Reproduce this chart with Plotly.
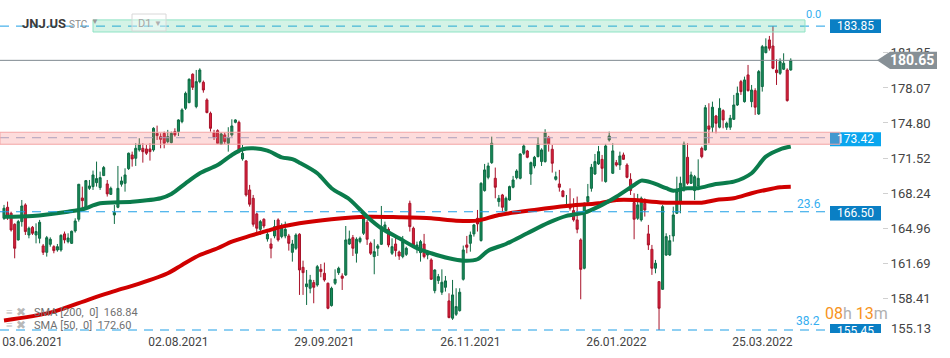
import plotly.graph_objects as go

# ---------------- data ----------------
opens = [165.89,166.92,166.36,165.33,163.87,165.58,167.14,164.33,165.05,164.33,
164.02,163.31,162.71,163.46,163.24,162.93,162.93,164.43,163.71,163.55,
164.71,165.80,167.79,166.83,168.69,168.85,169.22,168.76,169.88,169.10,
168.13,166.20,166.92,169.07,169.16,170.53,171.81,171.50,172.28,172.43,
172.37,172.37,172.28,173.83,173.52,173.83,173.06,172.96,173.99,173.99,
174.92,176.17,176.70,179.35,176.33,178.66,178.60,176.95,175.70,173.90,
174.08,172.81,173.68,172.90,173.68,174.86,174.86,171.44,171.25,168.54,
167.76,166.30,164.86,165.80,163.96,163.49,164.24,165.74,164.18,164.24,
164.24,162.71,163.09,164.40,161.31,159.50,159.35,159.88,159.66,161.12,
160.75,159.82,157.73,159.82,160.81,160.50,160.60,163.49,164.08,162.62,
163.71,164.49,165.52,163.55,162.31,163.09,163.46,164.86,164.86,162.62,
163.49,162.74,162.31,162.52,167.29,164.96,163.09,162.68,163.49,162.46,
162.00,159.13,160.07,158.98,159.44,158.17,156.55,156.92,157.26,160.19,
163.40,163.55,164.43,165.89,163.81,168.48,169.72,171.09,169.63,167.45,
168.07,166.61,167.60,168.79,169.69,169.63,171.97,172.18,170.03,170.78,
171.65,171.19,171.19,173.46,172.34,169.53,169.10,168.44,166.98,167.14,
166.61,165.74,163.87,161.22,167.45,168.69,170.03,170.97,171.40,169.32,
173.21,170.10,171.09,170.87,171.81,170.87,169.53,167.36,165.89,165.74,
167.29,164.43,162.99,161.22,159.97,159.25,162.46,162.46,164.24,166.36,
167.45,168.54,171.59,169.16,168.48,168.91,172.43,172.28,174.52,174.40,
175.45,174.40,175.95,174.40,174.40,175.14,176.48,178.66,176.79,179.29,
176.79,177.82,175.64,178.20,181.37,182.56,181.99,179.75,179.44,179.82,
179.75,179.75]

highs = [167.14,167.45,166.51,165.42,165.74,167.60,167.29,165.11,165.17,165.42,
165.74,163.49,164.24,164.11,163.37,163.49,164.39,164.65,164.49,164.74,
165.89,169.10,168.85,169.47,169.47,170.35,171.19,170.25,170.78,169.47,
168.85,167.14,170.78,169.78,170.56,172.03,172.12,172.90,173.37,172.90,
172.74,172.90,174.40,174.55,173.83,173.99,174.15,173.99,174.30,175.14,
176.17,177.73,178.97,179.44,179.75,179.91,178.76,177.10,175.86,174.15,
174.21,173.90,173.90,174.40,175.14,175.14,175.02,172.74,171.34,169.01,
168.07,166.42,165.74,165.89,164.65,164.02,165.74,165.89,165.42,165.58,
164.43,163.87,164.49,164.49,161.93,161.06,160.60,160.13,161.53,161.62,
161.75,159.88,159.50,161.12,161.37,160.75,165.17,164.74,164.33,164.11,
164.18,166.05,165.74,163.71,163.93,163.49,167.04,165.58,165.05,164.02,
164.18,162.87,164.24,163.24,167.54,165.11,163.71,163.87,164.43,162.93,
162.15,161.12,160.69,161.12,160.50,158.88,160.13,159.35,159.35,163.34,
164.24,164.65,165.36,166.67,169.26,170.97,171.09,173.52,170.63,168.07,
168.17,167.92,168.94,169.85,170.47,171.97,172.84,172.28,171.19,171.72,
173.46,172.43,174.21,173.59,172.74,170.25,170.41,168.54,168.07,168.69,
167.76,167.92,164.02,167.36,169.10,170.97,171.90,172.65,171.81,172.84,
173.99,172.90,171.34,172.12,172.03,171.03,170.10,168.23,168.17,167.92,
167.76,165.27,163.40,162.00,159.97,167.14,164.49,164.33,166.98,169.78,
169.78,173.06,172.90,170.25,169.94,171.40,172.59,176.48,176.64,176.79,
175.55,177.10,176.08,174.92,175.55,177.42,178.20,178.82,179.13,180.22,
178.35,178.04,179.75,182.09,182.71,182.93,183.85,180.75,180.84,181.31,
179.91,180.84]

lows = [165.74,165.74,164.65,162.15,163.81,165.11,164.33,164.02,164.33,163.55,
163.55,162.46,162.31,163.24,162.62,162.77,162.77,163.55,163.55,163.49,
164.55,165.58,166.67,166.67,168.54,168.54,168.85,168.54,169.85,167.92,
168.07,165.36,166.83,168.85,168.38,170.41,170.72,170.78,172.12,171.09,
171.81,171.28,172.12,173.21,172.43,172.43,172.90,172.90,173.52,173.58,
174.77,176.02,176.64,177.88,176.17,178.51,177.63,175.70,173.99,173.21,
172.90,172.74,172.84,172.12,173.52,174.77,171.97,171.28,167.92,166.98,
165.11,164.55,164.33,164.96,163.71,162.15,164.02,163.71,164.02,164.02,
162.87,161.84,162.93,158.73,158.73,157.79,158.88,157.95,159.50,160.38,
159.97,157.39,157.64,159.66,160.60,159.19,160.50,163.40,162.37,161.75,
163.55,164.33,163.40,162.46,160.66,162.37,163.40,164.65,163.18,162.46,
162.31,162.00,162.15,162.37,164.65,163.24,162.62,161.84,162.15,162.06,
160.13,158.88,159.76,158.73,159.04,156.55,156.39,156.76,157.17,160.07,
162.62,162.77,164.18,164.65,163.71,168.38,169.53,170.97,167.76,166.98,
166.51,166.51,167.54,168.69,169.53,169.53,171.81,171.50,169.01,170.56,
171.59,170.78,171.09,172.12,170.16,169.41,168.38,167.85,166.92,166.61,
165.58,164.49,158.32,161.12,167.29,168.38,169.94,170.87,169.32,169.22,
173.06,170.03,170.72,170.41,171.34,169.63,168.07,163.93,165.74,165.58,
166.05,162.93,160.60,160.75,155.45,159.19,162.37,162.37,163.71,166.30,
166.36,168.38,169.01,169.10,167.60,168.85,171.50,172.21,172.90,173.90,
173.83,174.30,174.30,174.15,174.15,175.08,176.39,177.42,176.70,177.73,
176.27,175.55,175.55,177.73,181.31,181.56,179.82,178.35,179.29,179.75,
176.79,179.69]

closes = [166.83,166.05,164.80,163.09,165.58,167.04,164.65,164.96,164.49,164.65,
165.52,162.71,164.08,163.93,162.87,163.24,164.30,163.87,164.05,164.68,
165.64,169.07,167.54,169.41,168.91,169.94,169.60,169.69,170.63,168.17,
168.69,166.42,168.69,169.38,169.94,171.97,171.44,172.43,172.81,172.12,
171.97,172.12,174.30,173.62,173.27,172.90,173.52,173.83,173.68,175.08,
176.02,177.57,178.88,178.13,178.66,179.75,177.88,175.77,174.30,173.46,
172.90,173.77,173.06,173.43,174.52,175.08,172.28,171.97,168.07,167.20,
165.33,164.96,165.58,165.17,164.40,163.09,165.11,163.87,165.05,164.86,
163.55,163.49,164.33,161.06,160.81,159.76,160.13,159.44,161.37,160.91,
160.13,157.48,159.35,160.19,161.22,160.28,163.87,163.96,163.09,163.93,
164.02,165.89,163.93,162.62,162.77,163.31,165.11,165.27,163.40,163.24,
162.87,162.37,163.71,163.09,165.11,163.40,163.40,163.71,162.31,162.77,
160.19,161.06,160.44,159.91,160.04,156.61,158.73,157.64,158.98,162.93,
163.18,164.33,165.27,165.36,169.16,170.41,170.78,172.90,168.79,167.76,
166.92,167.76,168.85,169.47,170.31,171.90,172.65,171.59,171.09,171.59,
172.84,172.28,173.90,172.84,171.03,169.78,168.79,167.92,167.14,166.83,
165.74,164.86,161.12,167.29,167.92,170.66,171.19,172.12,170.56,172.65,
173.58,172.19,170.87,171.72,171.40,169.72,168.48,165.80,167.14,167.76,
166.67,163.40,161.22,161.69,157.48,166.98,164.18,163.80,166.20,168.39,
169.16,172.84,169.16,169.94,169.78,169.63,171.65,176.23,174.21,176.27,
174.77,176.17,175.08,174.77,175.24,176.48,177.57,177.73,178.82,177.82,
177.88,176.27,179.60,181.93,181.93,181.78,179.91,179.50,180.53,180.38,
176.89,180.65]

bar_index = list(range(len(closes)))

sma50_idx = [0,8,18,22,27,36,44,47,51,55,60,64,67,70,74,78,81,83,88,92,97,102,106,111,116,120,
             125,129,133,136,141,147,153,158,163,167,172,177,179,182,186,188,192,195,200,205,210,214,218,221]
sma50_val = [166.04,166.11,166.51,166.73,167.29,167.44,167.76,168.16,169.16,170.10,170.87,171.81,172.34,
             172.43,172.21,171.59,171.41,171.09,170.10,168.70,167.67,166.04,164.96,164.02,163.09,162.62,
             162.15,161.93,162.06,162.86,163.49,164.49,165.48,166.11,166.42,166.98,167.91,169.00,169.41,
             169.22,168.70,168.47,168.70,168.70,169.10,169.31,170.10,171.65,172.34,172.60]

sma200_idx = [0,13,24,33,36,46,50,55,60,64,69,74,78,83,92,102,111,120,127,133,139,149,158,167,172,
              177,182,186,191,196,200,205,210,214,218,221]
sma200_val = [156.34,157.07,158.32,159.29,159.57,160.75,161.53,162.46,163.09,163.71,164.24,164.73,165.11,
              165.43,165.80,166.04,165.99,165.89,165.67,165.67,166.20,166.67,167.04,167.29,167.60,167.60,
              167.44,167.35,167.35,167.35,167.60,167.76,168.23,168.54,168.79,168.84]

date_tick_idx = [8, 49, 90, 131, 172, 213]
date_tick_labels = ["03.06.2021", "02.08.2021", "29.09.2021", "26.11.2021", "26.01.2022", "25.03.2022"]

price_ticks = [158.41, 161.69, 164.96, 168.24, 171.52, 174.80, 178.07, 181.35]
bottom_tick = 155.13

last_price = 180.65
fib_levels = [183.85, 166.50, 155.45]
fib_names = ["0.0", "23.6", "38.2"]
resistance_level = 173.42
green_zone = [183.30, 184.43]
red_zone = [172.81, 173.93]
sma200_last = 168.84
sma50_last = 172.60

# ---------------- layout helpers ----------------
W, H = 950, 358
ML, MR, MT, MB = 0, 68, 0, 25
PW = W - ML - MR        # plot width in px
PH = H - MT - MB        # plot height in px


def px(xp):
    return xp / PW


def py(yp):
    return 1 - yp / PH


BLUE = "#1e9fe6"
BOX_DARK = "#0a7fc4"
BOX_LIGHT = "#0aa6ee"

fig = go.Figure()

fig.add_trace(go.Candlestick(
    x=bar_index, open=opens, high=highs, low=lows, close=closes,
    increasing=dict(fillcolor="#178a5a", line=dict(color="#0d6b43", width=1)),
    decreasing=dict(fillcolor="#da203b", line=dict(color="#a8132a", width=1)),
    whiskerwidth=0, hoverinfo="skip", showlegend=False,
))

fig.add_trace(go.Scatter(
    x=sma200_idx, y=sma200_val, mode="lines",
    line=dict(color="#d00000", width=4, shape="spline", smoothing=0.8),
    hoverinfo="skip", showlegend=False,
))
fig.add_trace(go.Scatter(
    x=sma50_idx, y=sma50_val, mode="lines",
    line=dict(color="#0b7c4c", width=4, shape="spline", smoothing=0.8),
    hoverinfo="skip", showlegend=False,
))

shapes = []
# dashed fib / level lines
for lvl in fib_levels:
    shapes.append(dict(type="line", xref="paper", yref="y", x0=0, x1=px(827), y0=lvl, y1=lvl,
                       line=dict(color=BLUE, width=1, dash="9px,7px"), layer="above"))
# price line
shapes.append(dict(type="line", xref="paper", yref="y", x0=0, x1=px(878), y0=last_price, y1=last_price,
                   line=dict(color="#7f8a90", width=1), layer="above"))
# label boxes
box_specs = [(183.85, 0.65, BOX_DARK), (173.28, 0.65, BOX_LIGHT), (166.36, 0.68, BOX_DARK)]
for c, h, col in box_specs:
    shapes.append(dict(type="rect", xref="paper", yref="y", x0=px(830), x1=px(881), y0=c - h, y1=c + h,
                       fillcolor=col, line=dict(width=0), layer="above"))
shapes.append(dict(type="rect", xref="paper", yref="paper", x0=px(830), x1=px(881), y0=py(333), y1=py(324),
                   fillcolor=BOX_DARK, line=dict(width=0), layer="above"))
# resistance dashed line inside zone
shapes.append(dict(type="line", xref="paper", yref="y", x0=0, x1=px(827), y0=resistance_level, y1=resistance_level,
                   line=dict(color="#98b3d6", width=1, dash="9px,7px"), layer="above"))
# zones
shapes.append(dict(type="rect", xref="paper", yref="y", x0=px(93), x1=px(805), y0=green_zone[0], y1=green_zone[1],
                   fillcolor="rgba(60,200,140,0.22)", line=dict(color="#8fe3c4", width=1), layer="above"))
shapes.append(dict(type="rect", xref="paper", yref="y", x0=0, x1=px(840), y0=red_zone[0], y1=red_zone[1],
                   fillcolor="rgba(245,110,110,0.24)", line=dict(color="#f3a5a5", width=1), layer="above"))
# price tag
x_tip, x_l, x_r = px(877), px(890), px(937)
th = 0.80
shapes.append(dict(type="path", xref="paper", yref="y",
                   path=f"M {x_tip},{last_price} L {x_l},{last_price + th} L {x_r},{last_price + th} "
                        f"L {x_r},{last_price - th} L {x_l},{last_price - th} Z",
                   fillcolor="#879096", line=dict(width=0), layer="above"))
# D1 box
shapes.append(dict(type="rect", xref="paper", yref="paper", x0=px(132), x1=px(166), y0=py(31), y1=py(14),
                   fillcolor="rgba(255,255,255,0.35)", line=dict(color="#d8d8d8", width=1), layer="above"))

ann = []


def add_text(text, xp, yv, yref="y", size=12, color="#444", xanchor="center", bold=False, family="Roboto"):
    if bold:
        text = f"<b>{text}</b>"
    ann.append(dict(text=text, xref="paper", yref=yref, x=xp, y=yv, xanchor=xanchor, yanchor="middle",
                    showarrow=False, font=dict(size=size, color=color, family=family)))


add_text(f"{183.85:.2f}", px(855), 183.85, size=12, color="white")
add_text(f"{resistance_level:.2f}", px(855), 173.28, size=12, color="white")
add_text(f"{166.50:.2f}", px(855), 166.36, size=12, color="white")
add_text(f"{155.45:.2f}", px(855), py(331), yref="paper", size=12, color="white")
add_text(f"{last_price:.2f}", px(912), last_price, size=14, color="white", bold=True)
add_text(f"{bottom_tick:.2f}", px(889), py(328), yref="paper", size=13, color="#444", xanchor="left")

add_text(fib_names[0], px(813), py(15), yref="paper", size=11, color="#35aef0")
add_text(fib_names[1], px(809), py(204), yref="paper", size=12, color="#35aef0")
add_text(fib_names[2], px(808), py(321), yref="paper", size=12, color="#35aef0")

add_text("JNJ.US", px(20), py(23.5), yref="paper", size=13, color="#3c3c3c", xanchor="left", bold=True)
add_text("STC", px(67), py(24), yref="paper", size=10, color="#8a8a8a", xanchor="left")
add_text("▼", px(95), py(22), yref="paper", size=8, color="#9a9a9a")
add_text("D1", px(136), py(23), yref="paper", size=11, color="#a5a5a5", xanchor="left")
add_text("▼", px(158), py(23), yref="paper", size=8, color="#b0b0b0")

add_text("≡ ✖", px(4), py(312), yref="paper", size=12, color="#b8b8b8", xanchor="left")
add_text("≡ ✖", px(4), py(325), yref="paper", size=12, color="#b8b8b8", xanchor="left")
add_text(f"SMA [200,  0]  {sma200_last:.2f}", px(32), py(312), yref="paper", size=11, color="#707070",
         xanchor="left")
add_text(f"SMA [50,  0]  {sma50_last:.2f}", px(32), py(325), yref="paper", size=11, color="#707070",
         xanchor="left")

add_text("<span style='color:#f7941d'>08</span><span style='color:#b0b0b0'>h</span> "
         "<span style='color:#f7941d'>13</span><span style='color:#b0b0b0'>m</span>",
         px(823), py(313), yref="paper", size=16, color="#f7941d", xanchor="left")

fig.update_layout(
    width=W, height=H,
    margin=dict(l=ML, r=MR, t=MT, b=MB),
    paper_bgcolor="white", plot_bgcolor="white",
    font=dict(family="Roboto", color="#444"),
    showlegend=False,
    boxgap=0.18,
    shapes=shapes,
    annotations=ann,
    hovermode=False,
    xaxis=dict(
        range=[-4 / 3.56, -4 / 3.56 + PW / 3.56],
        tickmode="array", tickvals=date_tick_idx, ticktext=date_tick_labels,
        showgrid=False, zeroline=False, showline=False, ticks="",
        tickfont=dict(size=12, color="#444"),
        rangeslider=dict(visible=False), fixedrange=True,
    ),
    yaxis=dict(
        side="right",
        range=[155.17, 186.29],
        tickmode="array", tickvals=price_ticks, ticktext=[f"{v:.2f}" for v in price_ticks],
        showgrid=False, zeroline=False, showline=False,
        ticks="outside", ticklen=5, tickcolor="#d0d0d0",
        tickfont=dict(size=13, color="#444"), fixedrange=True,
    ),
)

fig.write_html("out.html", config={"displayModeBar": False},
               post_script="document.body.style.margin='0px';document.body.style.overflow='hidden';")
